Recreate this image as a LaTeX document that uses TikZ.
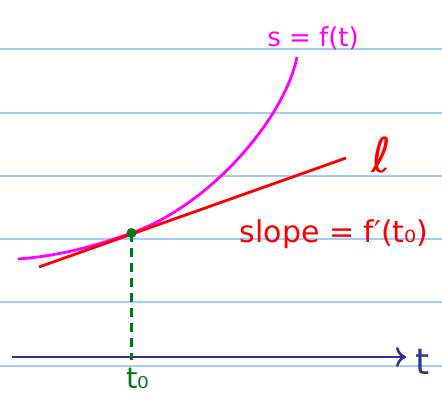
\documentclass[tikz,border=0pt]{standalone}
\usepackage{fontspec}
\setmainfont{DejaVu Sans}
\usetikzlibrary{arrows.meta}
\definecolor{rule}{RGB}{160,205,250}
\definecolor{axisblue}{RGB}{50,50,150}
\definecolor{dotgreen}{RGB}{0,120,20}
\definecolor{curvemag}{RGB}{255,0,255}
\definecolor{tanred}{RGB}{250,0,0}
\tikzset{
  ruleline/.style={rule, line width=1.6pt},
  axisline/.style={axisblue, line width=2.6pt, -{To[length=10pt,width=20pt,line width=2.6pt]}},
  curveline/.style={curvemag, line width=2.8pt},
  tanline/.style={tanred, line width=2.8pt},
  dropline/.style={dotgreen, line width=2.4pt, dash pattern=on 9pt off 6pt},
  lbl/.style={inner sep=0pt, anchor=center}
}
\begin{document}
\begin{tikzpicture}[x=1pt,y=-1pt]
\useasboundingbox[fill=white] (0,0) rectangle (442,397);
% ruled lines
\foreach \yy in {49,113,176,239,302,366}{
  \draw[ruleline] (0,\yy) -- (442,\yy);
}
% axis
\coordinate (ax0) at (12,357);
\coordinate (ax1) at (406,357);
\draw[axisline] (ax0) -- (ax1);
\node[lbl, axisblue, font=\fontsize{36}{36}\selectfont] (tlabel) at (423,362) {t};
% point and drop line
\coordinate (P) at (131.5,233);
\coordinate (Pfoot) at (131.5,360);
\draw[dropline] (P) -- (Pfoot);
\node[inner sep=0pt, anchor=base, dotgreen, font=\fontsize{29}{29}\selectfont] (t0label) at (138,388) {t₀};
% curve
\coordinate (C0) at (18,259);
\coordinate (C1) at (297,57);
\draw[curveline] (C0) .. controls (58,256) and (91.5,247.2) .. (P)
  .. controls (211.5,204.6) and (285,117) .. (C1);
% tangent line
\coordinate (L0) at (39,267);
\coordinate (L1) at (346,158);
\draw[tanline] (L0) -- (L1);
\fill[dotgreen] (P) circle (5);
% labels
\node[lbl, curvemag, font=\fontsize{26}{26}\selectfont] (flabel) at (313,38) {s = f(t)};
\node[lbl, tanred, font=\fontsize{48}{48}\selectfont] (ell) at (381,155) {ℓ};
\node[lbl, tanred, font=\fontsize{30}{30}\selectfont] (slopelabel) at (334,234) {slope = f′(t₀)};
\end{tikzpicture}
\end{document}
